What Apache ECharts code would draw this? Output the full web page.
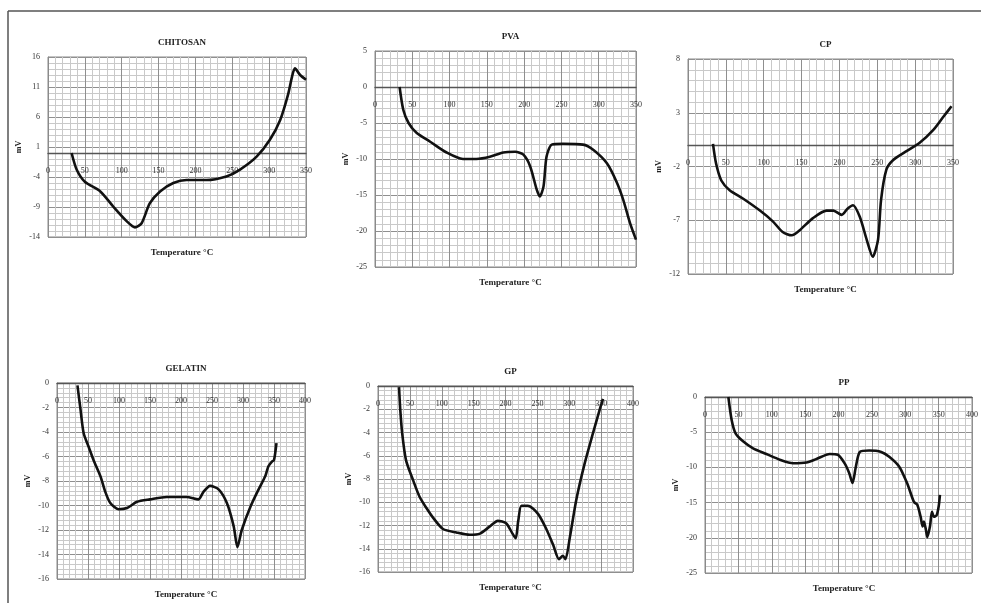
<!DOCTYPE html>
<html>
<head>
<meta charset="utf-8">
<script src="https://cdn.jsdelivr.net/npm/echarts@6/dist/echarts.min.js"></script>
<style>
  html, body { margin: 0; padding: 0; background: #fff; }
  #chart { width: 981px; height: 603px; }
</style>
</head>
<body>
<div id="chart"></div>
<script>
// panel titles
var titles = ['CHITOSAN', 'PVA', 'CP', 'GELATIN', 'GP', 'PP'];

// DSC curves, temperature (°C) and heat flow (mV)
var chitosanT  = [32, 39, 50, 71, 89, 107, 118, 127, 138, 152, 170, 188, 215, 242, 260, 283, 301, 315, 326, 331, 335, 342, 350];
var chitosanMV = [0, -2.8, -4.8, -6.4, -9, -11.4, -12.4, -11.7, -8.4, -6.4, -5, -4.5, -4.5, -3.9, -2.8, -0.6, 2.2, 5.5, 9.9, 12.7, 14.1, 13, 12.2];

var pvaT  = [33, 38, 45, 56, 74, 96, 118, 136, 154, 172, 188, 199, 208, 217, 221, 226, 230, 237, 252, 279, 293, 311, 324, 333, 342, 350];
var pvaMV = [0, -3.2, -5, -6.4, -7.6, -9.1, -10, -10, -9.7, -9.1, -9, -9.4, -11, -14.3, -15.2, -13.8, -9.7, -8, -7.9, -8, -8.75, -10.6, -13.2, -15.7, -18.9, -21.2];

var cpT  = [33, 37, 44, 55, 73, 95, 112, 125, 137, 148, 165, 183, 192, 203, 211, 218, 227, 236, 244, 251, 255, 262, 271, 288, 306, 324, 337, 348];
var cpMV = [0.1, -1.7, -3.3, -4.2, -5, -6.1, -7.1, -8.1, -8.4, -7.9, -6.8, -6.1, -6.1, -6.5, -5.9, -5.6, -6.7, -8.8, -10.4, -8.8, -5.1, -2.3, -1.4, -0.6, 0.2, 1.4, 2.6, 3.6];

var gelatinT  = [33, 38, 43, 51, 59, 70, 78, 86, 99, 113, 129, 150, 177, 209, 228, 236, 247, 261, 274, 285, 291, 298, 312, 325, 336, 341, 347, 350, 354];
var gelatinMV = [-0.2, -2.2, -4.1, -5.2, -6.3, -7.6, -8.9, -9.8, -10.3, -10.2, -9.7, -9.5, -9.3, -9.3, -9.5, -8.9, -8.4, -8.7, -9.8, -11.7, -13.4, -12, -10.1, -8.7, -7.6, -6.8, -6.4, -6.3, -4.9];

var gpT  = [33, 35, 38, 44, 55, 65, 76, 86, 102, 123, 144, 160, 175, 188, 201, 211, 216, 220, 225, 235, 251, 264, 275, 284, 290, 294, 301, 311, 324, 337, 349, 353];
var gpMV = [-0.1, -2.1, -4.1, -6.4, -8.1, -9.5, -10.5, -11.3, -12.3, -12.6, -12.8, -12.7, -12.1, -11.6, -11.8, -12.7, -13.1, -11.6, -10.3, -10.3, -11, -12.3, -13.7, -14.9, -14.6, -14.9, -13, -9.8, -6.7, -4.1, -1.8, -1.1];

var ppT  = [35, 40, 46, 57, 72, 92, 112, 132, 152, 167, 187, 199, 209, 216, 221, 226, 232, 246, 264, 276, 291, 303, 313, 318, 323, 326, 328, 331, 333, 337, 340, 343, 347, 350, 352];
var ppMV = [0, -3.3, -5.2, -6.3, -7.3, -8.1, -8.9, -9.4, -9.3, -8.8, -8.1, -8.2, -9.4, -10.8, -12.2, -9.9, -7.8, -7.6, -7.8, -8.5, -9.9, -12.3, -14.9, -15.3, -17, -18.4, -17.7, -18.9, -19.9, -18.4, -16.3, -17, -16.8, -15.6, -13.9];

// axis ranges / tick steps
var xMax  = [350, 350, 350, 400, 400, 400];
var xStep = [50, 50, 50, 50, 50, 50];
var yMin  = [-14, -25, -12, -16, -16, -25];
var yMax  = [16, 5, 8, 0, 0, 0];
var yStep = [5, 5, 5, 2, 2, 5];

var temps = [chitosanT, pvaT, cpT, gelatinT, gpT, ppT];
var mvs   = [chitosanMV, pvaMV, cpMV, gelatinMV, gpMV, ppMV];

// plot boxes on the page
var boxes = [
  { left: 48,  top: 57,  width: 258, height: 180 },
  { left: 375, top: 51,  width: 261, height: 216 },
  { left: 688, top: 59,  width: 265, height: 215 },
  { left: 57,  top: 383, width: 248, height: 196 },
  { left: 378, top: 386, width: 255, height: 186 },
  { left: 705, top: 397, width: 268, height: 176 }
];

var serif = '"Liberation Serif", "DejaVu Serif", serif';

var chartDom = document.getElementById('chart');
var myChart = echarts.init(chartDom);

var grid = [], xAxis = [], yAxis = [], series = [], title = [];

boxes.forEach(function (b, i) {
  // the temperature axis crosses at 0 mV: shift it up from the bottom edge
  var zeroFromBottom = b.height * (0 - yMin[i]) / (yMax[i] - yMin[i]);
  grid.push({
    left: b.left, top: b.top, width: b.width, height: b.height,
    show: true, borderColor: '#8a8a8a', borderWidth: 1
  });
  xAxis.push({
    type: 'value', gridIndex: i, position: 'bottom',
    offset: -zeroFromBottom,
    min: 0, max: xMax[i], interval: xStep[i],
    axisLine: { onZero: false, lineStyle: { color: '#555', width: 1.3 } },
    axisTick: { show: false },
    axisLabel: { fontFamily: serif, fontSize: 8, color: '#333', margin: 14 },
    splitLine: { lineStyle: { color: '#8f8f8f', width: 1 } },
    minorTick: { show: true, splitNumber: 5, length: 0 },
    minorSplitLine: { show: true, lineStyle: { color: '#c9c9c9', width: 1 } }
  });
  yAxis.push({
    type: 'value', gridIndex: i,
    min: yMin[i], max: yMax[i], interval: yStep[i],
    name: 'mV', nameLocation: 'middle', nameGap: 25, nameRotate: 90,
    nameTextStyle: { fontFamily: serif, fontSize: 8, fontWeight: 'bold', color: '#222' },
    axisLine: { show: true, onZero: false, lineStyle: { color: '#8a8a8a' } },
    axisTick: { show: false },
    axisLabel: { fontFamily: serif, fontSize: 8, color: '#333', margin: 8 },
    splitLine: { lineStyle: { color: '#8f8f8f', width: 1 } },
    minorTick: { show: true, splitNumber: 5, length: 0 },
    minorSplitLine: { show: true, lineStyle: { color: '#c9c9c9', width: 1 } }
  });
  var pts = temps[i].map(function (t, k) { return [t, mvs[i][k]]; });
  series.push({
    type: 'line', xAxisIndex: i, yAxisIndex: i,
    data: pts, smooth: 0.25, showSymbol: false,
    lineStyle: { color: '#111', width: 2.6 }
  });
  title.push({
    text: titles[i], left: b.left + b.width / 2, top: b.top - 24, textAlign: 'center',
    textStyle: { fontFamily: serif, fontSize: 9, fontWeight: 'bold', color: '#222' }
  });
  title.push({
    text: 'Temperature °C', left: b.left + b.width / 2, top: b.top + b.height + 6, textAlign: 'center',
    textStyle: { fontFamily: serif, fontSize: 9, fontWeight: 'bold', color: '#222' }
  });
});

var option = {
  animation: false,
  title: title,
  grid: grid,
  xAxis: xAxis,
  yAxis: yAxis,
  series: series,
  graphic: [
    { type: 'line', shape: { x1: 8, y1: 11, x2: 981, y2: 11 }, style: { stroke: '#555', lineWidth: 1.5 } },
    { type: 'line', shape: { x1: 8, y1: 11, x2: 8, y2: 603 }, style: { stroke: '#555', lineWidth: 1.5 } }
  ]
};
option && myChart.setOption(option, true);
</script>
</body>
</html>
